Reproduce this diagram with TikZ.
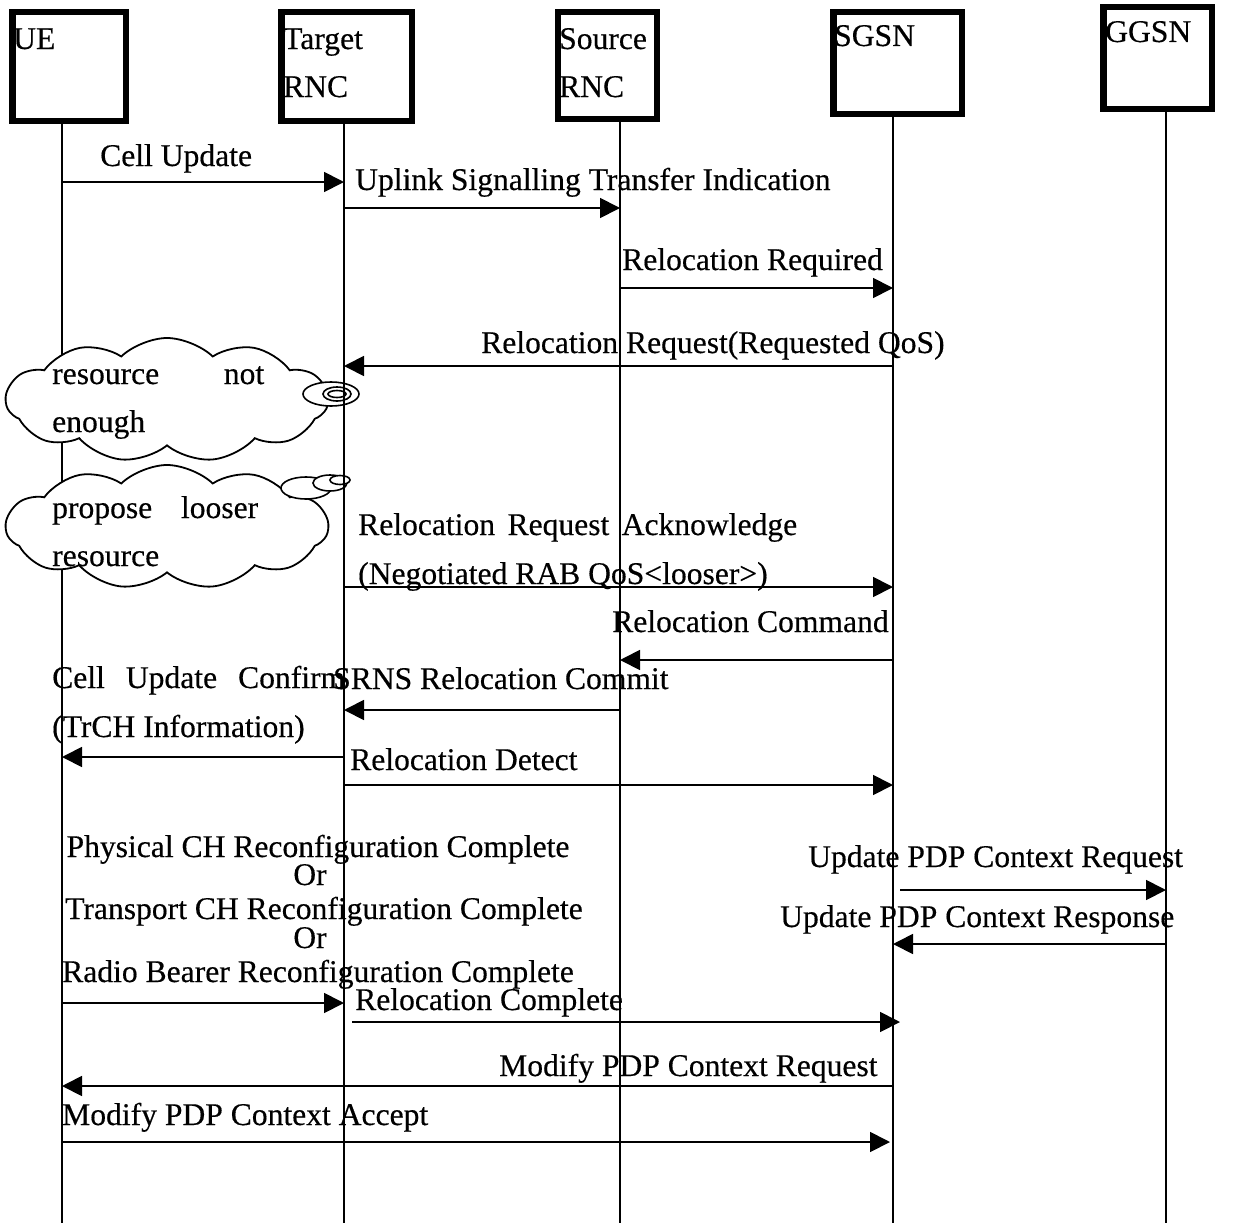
\documentclass[tikz,border=0pt]{standalone}
\usepackage{fontspec}
\setmainfont{Liberation Serif}[FakeBold=0.4]
\usetikzlibrary{shapes.symbols,arrows.meta}
\begin{document}
\begin{tikzpicture}[x=1pt,y=-1pt,
  font=\fontsize{31.6}{38}\selectfont,
  box/.style={draw, line width=6.5pt, inner sep=0pt},
  life/.style={line width=1.4pt},
  msg/.style={line width=1.8pt, -{Triangle[length=20pt,width=20pt]}},
  lbl/.style={anchor=base west, inner sep=0pt},
  ctr/.style={anchor=base, inner sep=0pt},
  thought/.style={cloud, draw, fill=white, line width=1.8pt, cloud puffs=11, cloud puff arc=88, aspect=2.6, inner sep=0pt, minimum width=322pt, minimum height=124pt},
  bub/.style={draw, fill=white, line width=1.6pt}]
\useasboundingbox (0,0) rectangle (1242,1223);
% boxes
\node[box, minimum width=113.5pt, minimum height=108.5pt] (ue) at (69,66.5) {};
\node[box, minimum width=130.5pt, minimum height=108.5pt] (tg) at (346.5,66.5) {};
\node[box, minimum width=99pt, minimum height=107pt] (sr) at (607.5,65.5) {};
\node[box, minimum width=128.5pt, minimum height=102pt] (sg) at (897.5,63) {};
\node[box, minimum width=108.5pt, minimum height=102pt] (gg) at (1157.5,58) {};
\node[lbl] (ueT) at (13,49) {UE};
\node[lbl] (tgT1) at (283,49) {Target};
\node[lbl] (tgT2) at (283,97) {RNC};
\node[lbl] (srT1) at (559,49) {Source};
\node[lbl] (srT2) at (559,97) {RNC};
\node[lbl] (sgT) at (834,46) {SGSN};
\node[lbl] (ggT) at (1105,42) {GGSN};
% lifeline x positions
\coordinate (lUE) at (62,0);
\coordinate (lTG) at (344,0);
\coordinate (lSR) at (620,0);
\coordinate (lSG) at (893,0);
\coordinate (lGG) at (1166,0);
\coordinate (bot) at (0,1223);
\draw[life] (ue.south -| lUE) -- (bot -| lUE);
% thought clouds
\node[thought] (c1) at (167,400) {};
\node[thought] (c2) at (167,527) {};
\draw[bub] (331,394) ellipse [x radius=28pt, y radius=12pt];
\draw[bub] (337,394) ellipse [x radius=14pt, y radius=7pt];
\draw[bub] (337,394) ellipse [x radius=9pt, y radius=3.5pt];
\draw[bub] (306,488) ellipse [x radius=25pt, y radius=11pt];
\draw[bub] (330,483) ellipse [x radius=17pt, y radius=8pt];
\draw[bub] (340,480) ellipse [x radius=10pt, y radius=4.5pt];
\node[lbl] (c1a) at (52,384) {\makebox[212pt][s]{resource\hfill not}};
\node[lbl] (c1b) at (52,432) {enough};
\node[lbl] (c2a) at (52,518) {\makebox[206pt][s]{propose\hfill looser}};
\node[lbl] (c2b) at (52,566) {resource};
% other lifelines
\draw[life] (tg.south -| lTG) -- (bot -| lTG);
\draw[life] (sr.south -| lSR) -- (bot -| lSR);
\draw[life] (sg.south -| lSG) -- (bot -| lSG);
\draw[life] (gg.south -| lGG) -- (bot -| lGG);
% messages
\draw[msg] (lUE |- 0,182) -- (lTG |- 0,182);
\node[lbl] (m1) at (100,166) {Cell Update};
\draw[msg] (lTG |- 0,208) -- (lSR |- 0,208);
\node[lbl] (m2) at (355,190) {Uplink Signalling Transfer Indication};
\draw[msg] (lSR |- 0,288) -- (lSG |- 0,288);
\node[lbl] (m3) at (622,270) {Relocation Required};
\draw[msg] (lSG |- 0,366) -- (lTG |- 0,366);
\node[lbl] (m4) at (481,353) {Relocation Request(Requested QoS)};
\draw[msg] (lTG |- 0,587) -- (lSG |- 0,587);
\node[lbl] (m5a) at (358,535) {\makebox[439pt][s]{Relocation\hfill Request\hfill Acknowledge}};
\node[lbl] (m5b) at (358,584) {(Negotiated RAB QoS<looser>)};
\draw[msg] (lSG |- 0,660) -- (lSR |- 0,660);
\node[lbl] (m6) at (612,632) {Relocation Command};
\draw[msg] (lSR |- 0,710) -- (lTG |- 0,710);
\node[lbl] (m7) at (333,689) {SRNS Relocation Commit};
\draw[msg] (lTG |- 0,757) -- (lUE |- 0,757);
\node[lbl] (m8a) at (52,688) {\makebox[293pt][s]{Cell\hfill Update\hfill Confirm}};
\node[lbl] (m8b) at (52,737) {(TrCH Information)};
\draw[msg] (lTG |- 0,785) -- (lSG |- 0,785);
\node[lbl] (m9) at (350,770) {Relocation Detect};
\node[ctr] (m10a) at (318,857) {Physical CH Reconfiguration Complete};
\node[ctr] (m10b) at (310,885) {Or};
\node[ctr] (m10c) at (324,919) {Transport CH Reconfiguration Complete};
\node[ctr] (m10d) at (310,948) {Or};
\node[ctr] (m10e) at (318,982) {Radio Bearer Reconfiguration Complete};
\draw[msg] (lUE |- 0,1003) -- (lTG |- 0,1003);
\coordinate (sgR) at (900,0);
\draw[msg] (sgR |- 0,890) -- (lGG |- 0,890);
\node[lbl] (m11) at (808,867) {Update PDP Context Request};
\draw[msg] (lGG |- 0,944) -- (lSG |- 0,944);
\node[lbl] (m12) at (780,927) {Update PDP Context Response};
\coordinate (tgR) at (352,0);
\draw[msg] (tgR |- 0,1022) -- (sgR |- 0,1022);
\node[lbl] (m13) at (355,1010) {Relocation Complete};
\draw[msg] (lSG |- 0,1086) -- (lUE |- 0,1086);
\node[lbl] (m14) at (499,1076) {Modify PDP Context Request};
\coordinate (sgL) at (890,0);
\draw[msg] (lUE |- 0,1142) -- (sgL |- 0,1142);
\node[lbl] (m15) at (62,1125) {Modify PDP Context Accept};
\end{tikzpicture}
\end{document}
